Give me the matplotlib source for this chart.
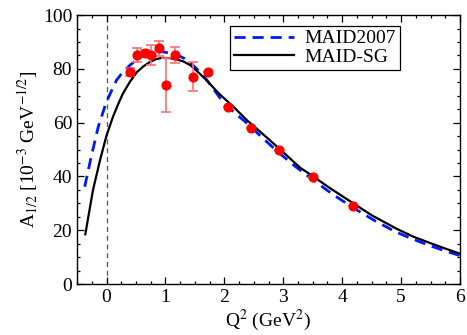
import matplotlib
matplotlib.use("Agg")
import matplotlib.pyplot as plt
from matplotlib.ticker import MultipleLocator

# ---- data ----
data_q2 = [0.40, 0.52, 0.65, 0.75, 0.89, 1.01, 1.16, 1.46, 1.73, 2.06, 2.45, 2.92, 3.50, 4.18]
data_a12 = [78.9, 85.1, 85.8, 85.1, 87.6, 73.9, 85.1, 77.1, 78.9, 65.9, 57.9, 49.8, 39.7, 29.1]
data_err = [1.5, 2.7, 1.2, 3.7, 2.8, 10.0, 3.0, 5.5, 0.0, 0.0, 0.0, 0.0, 0.0, 0.0]

maid2007_q2 = [-0.37, -0.26, -0.14, -0.01, 0.05, 0.17, 0.28, 0.40, 0.52, 0.63, 0.75, 0.86,
               0.97, 1.08, 1.22, 1.37, 1.52, 1.68, 1.84, 2.0, 2.2, 2.4, 2.65, 2.9,
               3.2, 3.5, 3.85, 4.2, 4.55, 4.9, 5.2, 5.5, 5.75, 6.0]
maid2007_a12 = [36.2, 47.3, 58.5, 67.2, 70.2, 75.8, 78.9, 81.4, 83.6, 85.1, 86.0, 86.4,
                86.3, 85.8, 85.0, 83.3, 80.3, 76.5, 71.8, 67.0, 63.2, 59.5, 54.3, 49.3,
                43.8, 38.8, 33.2, 28.2, 23.6, 19.5, 16.7, 14.2, 12.3, 10.6]

maidsg_q2 = [-0.36, -0.23, -0.11, 0.0, 0.11, 0.2, 0.28, 0.4, 0.52, 0.63, 0.74, 0.84, 0.94,
             1.07, 1.2, 1.31, 1.42, 1.56, 1.71, 1.9, 2.15, 2.38, 2.72, 2.95, 3.29, 3.51,
             3.77, 4.19, 4.5, 4.93, 5.21, 5.5, 5.75, 6.0]
maidsg_a12 = [18.5, 34.9, 46.1, 55.2, 62.2, 67.0, 70.9, 75.3, 78.9, 81.0, 82.6, 83.6, 84.1,
              84.0, 83.5, 82.7, 81.4, 78.7, 75.5, 71.0, 66.0, 61.0, 54.5, 50.0, 43.2, 40.0,
              36.0, 30.0, 25.6, 20.5, 17.6, 15.2, 13.2, 11.3]

xticks = [0, 1, 2, 3, 4, 5, 6]
yticks = [0, 20, 40, 60, 80, 100]

plt.rcParams['font.family'] = ['Liberation Serif', 'DejaVu Serif']
plt.rcParams['mathtext.fontset'] = 'stix'

fig = plt.figure(figsize=(4.67, 3.35), dpi=100)
ax = fig.add_axes([0.165, 0.152, 0.82, 0.803])

ax.axvline(0, color='#555555', lw=0.9, ls=(0, (4, 3)), zorder=1)

ax.plot(maid2007_q2, maid2007_a12, color='#0018ff', lw=2.0, ls=(0, (4, 2.5)),
        label='MAID2007', zorder=3)
ax.plot(maidsg_q2, maidsg_a12, color='black', lw=1.6, label='MAID-SG', zorder=3)

ax.errorbar(data_q2, data_a12, yerr=data_err, fmt='none', ecolor='#ff7070',
            elinewidth=1.2, capsize=3.5, capthick=1.2, zorder=4)
ax.plot(data_q2, data_a12, 'o', color='#ff0000', ms=6.3, mec='#ff0000', zorder=5)

ax.set_xlim(-0.5, 6)
ax.set_ylim(0, 100)
ax.set_xticks(xticks)
ax.set_yticks(yticks)
ax.xaxis.set_minor_locator(MultipleLocator(0.25))
ax.yaxis.set_minor_locator(MultipleLocator(5))
ax.tick_params(which='both', direction='in', top=True, right=True, labelsize=14)
ax.tick_params(which='major', length=5, width=0.9)
ax.tick_params(which='minor', length=2.5, width=0.9)
for s in ax.spines.values():
    s.set_linewidth(1.0)

ax.set_xlabel(r'Q$^2$ (GeV$^2$)', fontsize=14, labelpad=1)
ax.set_ylabel(r'A$_{1/2}$ [10$^{-3}$ GeV$^{-1/2}$]', fontsize=14, labelpad=2)

leg = ax.legend(loc='upper left', bbox_to_anchor=(0.40, 0.96), fontsize=14,
                frameon=True, fancybox=False, edgecolor='black', framealpha=1,
                handlelength=3.1, handletextpad=0.5, borderpad=0.2,
                labelspacing=0.05, borderaxespad=0)
leg.get_frame().set_linewidth(0.9)

fig.savefig('out.png', dpi=100)
